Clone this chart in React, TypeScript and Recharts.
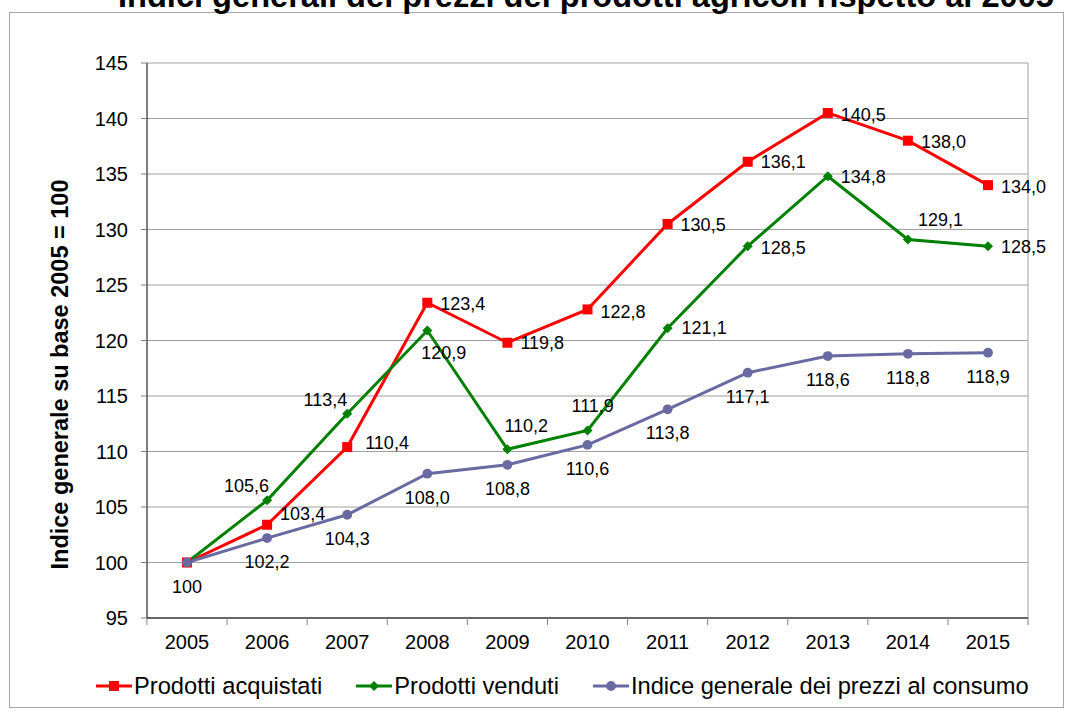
import React from 'react'
import { LineChart, Line, XAxis, YAxis, CartesianGrid, LabelList, Legend } from 'recharts'

const years = ['2005', '2006', '2007', '2008', '2009', '2010', '2011', '2012', '2013', '2014', '2015']
const acquistati = [100, 103.4, 110.4, 123.4, 119.8, 122.8, 130.5, 136.1, 140.5, 138.0, 134.0]
const venduti = [100, 105.6, 113.4, 120.9, 110.2, 111.9, 121.1, 128.5, 134.8, 129.1, 128.5]
const consumo = [100, 102.2, 104.3, 108.0, 108.8, 110.6, 113.8, 117.1, 118.6, 118.8, 118.9]
const yTicks = [95, 100, 105, 110, 115, 120, 125, 130, 135, 140, 145]

const data = years.map((year, i) => ({
  year,
  acquistati: acquistati[i],
  venduti: venduti[i],
  consumo: consumo[i],
}))

const FONT = "'Liberation Sans', Arial, sans-serif"
const RED = '#FF0000'
const GREEN = '#008000'
const PURPLE = '#6A6AA2'

// where each data label sits relative to its point: [dx, dy, anchor]
type Place = [number, number, 'start' | 'middle' | 'end'] | null
const redPlace: Place[] = [
  null, [13, -11, 'start'], [18, -4, 'start'], [13, 1, 'start'], [13, 0, 'start'], [13, 3, 'start'],
  [13, 1, 'start'], [13, 0, 'start'], [13, 2, 'start'], [13, 1, 'start'], [13, 2, 'start'],
]
const greenPlace: Place[] = [
  null, [2, -14, 'end'], [0, -14, 'end'], [-6, 22, 'start'], [-3, -23, 'start'], [-16, -24, 'start'],
  [14, 0, 'start'], [13, 2, 'start'], [13, 1, 'start'], [10, -19, 'start'], [13, 1, 'start'],
]
const purplePlace: Place[] = years.map(() => [0, 24, 'middle'])

function fmt(v: number) {
  return v === 100 ? '100' : v.toFixed(1).replace('.', ',')
}

const makeLabel = (places: Place[]) => (props: any) => {
  const { index, value } = props
  const p = places[index]
  if (!p) return null
  const x = props.viewBox?.x ?? props.x
  const y = props.viewBox?.y ?? props.y
  return (
    <text
      x={x + p[0]}
      y={y + p[1]}
      textAnchor={p[2]}
      dominantBaseline="central"
      fontSize={18}
      fontFamily={FONT}
      fill="#000"
    >
      {fmt(value)}
    </text>
  )
}

const SquareDot = (props: any) => {
  const { cx, cy, index } = props
  return <rect key={`s${index}`} x={cx - 5} y={cy - 5} width={10} height={10} fill={RED} />
}
const DiamondDot = (props: any) => {
  const { cx, cy, index } = props
  const r = 5
  return (
    <polygon
      key={`d${index}`}
      points={`${cx},${cy - r} ${cx + r},${cy} ${cx},${cy + r} ${cx - r},${cy}`}
      fill={GREEN}
    />
  )
}
const CircleDot = (props: any) => {
  const { cx, cy, index } = props
  return <circle key={`c${index}`} cx={cx} cy={cy} r={4.9} fill={PURPLE} />
}

const XTick = (props: any) => {
  const { x, y, payload, index, visibleTicksCount } = props
  const half = (props.width ? props.width / visibleTicksCount : 80.1) / 2
  const top = y - 17
  return (
    <g>
      <line x1={x - half} x2={x - half} y1={top} y2={top + 7} stroke="#808080" />
      {index === visibleTicksCount - 1 && (
        <line x1={x + half} x2={x + half} y1={top} y2={top + 7} stroke="#808080" />
      )}
      <text x={x} y={y} dy="0.71em" textAnchor="middle" fontSize={20} fontFamily={FONT} fill="#000">
        {payload.value}
      </text>
    </g>
  )
}

const YLabel = (props: any) => {
  const vb = props.viewBox
  const cx = 59.5
  const cy = vb.y + vb.height / 2 + 34
  return (
    <text
      x={cx}
      y={cy}
      transform={`rotate(-90 ${cx} ${cy})`}
      textAnchor="middle"
      dominantBaseline="central"
      fontSize={23.5}
      fontWeight="bold"
      fontFamily={FONT}
      fill="#000"
    >
      Indice generale su base 2005 = 100
    </text>
  )
}

const legendItems = [
  { name: 'Prodotti acquistati', color: RED, marker: 'square' },
  { name: 'Prodotti venduti', color: GREEN, marker: 'diamond' },
  { name: 'Indice generale dei prezzi al consumo', color: PURPLE, marker: 'circle' },
]

const LegendBox = () => (
  <div
    style={{
      height: 30,
      display: 'flex',
      alignItems: 'center',
      paddingLeft: 96,
      gap: 34,
      fontFamily: FONT,
      fontSize: 23.7,
      color: '#000',
      whiteSpace: 'nowrap',
    }}
  >
    {legendItems.map((it) => (
      <div key={it.name} style={{ display: 'flex', alignItems: 'center' }}>
        <svg width={36} height={12} style={{ marginRight: 2 }}>
          <line x1={0} x2={36} y1={6} y2={6} stroke={it.color} strokeWidth={3} />
          {it.marker === 'square' && <rect x={13} y={1} width={10} height={10} fill={it.color} />}
          {it.marker === 'diamond' && <polygon points="18,1 23,6 18,11 13,6" fill={it.color} />}
          {it.marker === 'circle' && <circle cx={18} cy={6} r={4.9} fill={it.color} />}
        </svg>
        <span style={{ lineHeight: '30px' }}>{it.name}</span>
      </div>
    ))}
  </div>
)

export default function App() {
  return (
    <div style={{ position: 'absolute', left: 0, top: 0, width: 1071, height: 713, overflow: 'hidden', background: '#fff' }}>
      <div
        style={{
          position: 'absolute',
          left: 9,
          top: 12,
          width: 1053,
          height: 694,
          border: '1px solid #a6a6a6',
        }}
      />
      <div
        style={{
          position: 'absolute',
          left: 118,
          top: -21,
          whiteSpace: 'nowrap',
          fontFamily: FONT,
          fontWeight: 'bold',
          fontSize: 32.6,
          lineHeight: '33px',
          color: '#000',
        }}
      >
        Indici generali dei prezzi dei prodotti agricoli rispetto al 2005
      </div>
      <LineChart
        width={1071}
        height={713}
        data={data}
        margin={{ top: 63, right: 43, bottom: 12, left: 0 }}
        style={{ position: 'absolute', left: 0, top: 0 }}
      >
        <CartesianGrid
          stroke="#a0a0a0"
          horizontal
          vertical
          verticalCoordinatesGenerator={({ offset }: any) => [offset.left + offset.width]}
        />
        <XAxis
          dataKey="year"
          padding={{ left: 40, right: 40 }}
          height={53}
          axisLine={{ stroke: '#000' }}
          tickLine={false}
          tickSize={7}
          tickMargin={10}
          interval={0}
          tick={<XTick />}
        />
        <YAxis
          domain={[95, 145]}
          ticks={yTicks}
          interval={0}
          width={147}
          axisLine={{ stroke: '#000' }}
          tickLine={{ stroke: '#808080' }}
          tickSize={6}
          tickMargin={13}
          tick={{ fontSize: 20, fill: '#000', fontFamily: FONT }}
          label={YLabel}
        />
        <Legend verticalAlign="bottom" content={() => <LegendBox />} />
        <Line
          dataKey="acquistati"
          name="Prodotti acquistati"
          stroke={RED}
          strokeWidth={3}
          dot={SquareDot}
          activeDot={false}
          isAnimationActive={false}
        >
          <LabelList dataKey="acquistati" content={makeLabel(redPlace)} />
        </Line>
        <Line
          dataKey="venduti"
          name="Prodotti venduti"
          stroke={GREEN}
          strokeWidth={3}
          dot={DiamondDot}
          activeDot={false}
          isAnimationActive={false}
        >
          <LabelList dataKey="venduti" content={makeLabel(greenPlace)} />
        </Line>
        <Line
          dataKey="consumo"
          name="Indice generale dei prezzi al consumo"
          stroke={PURPLE}
          strokeWidth={3}
          dot={CircleDot}
          activeDot={false}
          isAnimationActive={false}
        >
          <LabelList dataKey="consumo" content={makeLabel(purplePlace)} />
        </Line>
      </LineChart>
    </div>
  )
}
